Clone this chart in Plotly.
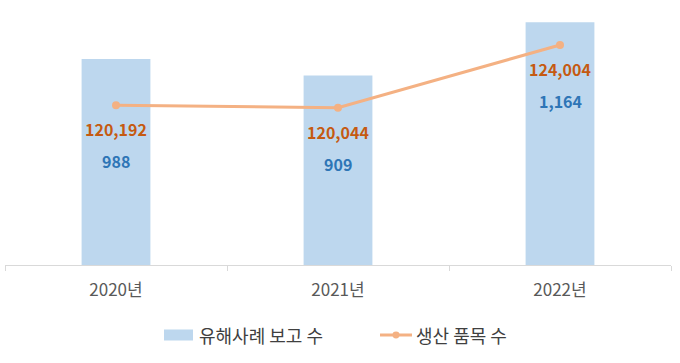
import plotly.graph_objects as go

years = ["2020년", "2021년", "2022년"]
reports = [988, 909, 1164]
products = [120192, 120044, 124004]

bar_name = "유해사례 보고 수"
line_name = "생산 품목 수"

FONT = "Noto Sans CJK KR"
BAR_COLOR = "#BDD7EE"
LINE_COLOR = "#F4B183"

fig = go.Figure()
fig.add_trace(go.Bar(
    x=years, y=reports, name=bar_name,
    marker=dict(color=BAR_COLOR, line=dict(width=0)),
    width=0.31, yaxis="y", hoverinfo="skip", showlegend=False,
))
fig.add_trace(go.Scatter(
    x=years, y=products, name=line_name, mode="lines+markers",
    line=dict(color=LINE_COLOR, width=3),
    marker=dict(color=LINE_COLOR, size=8),
    yaxis="y2", hoverinfo="skip", showlegend=False,
))

annotations = []
for yr, r, p in zip(years, reports, products):
    annotations.append(dict(
        x=yr, y=p, xref="x", yref="y2", yshift=-24,
        text=f"<b>{p:,}</b>", showarrow=False,
        font=dict(family=FONT, size=16, color="#C55A11"),
    ))
    annotations.append(dict(
        x=yr, y=p, xref="x", yref="y2", yshift=-56,
        text=f"<b>{r:,}</b>", showarrow=False,
        font=dict(family=FONT, size=16, color="#2E75B6"),
    ))

# manual legend (paper coordinates)
leg_y = -0.2745
annotations.append(dict(
    x=0.2883, y=leg_y, xref="paper", yref="paper", xanchor="left", yanchor="middle",
    text=bar_name, showarrow=False,
    font=dict(family=FONT, size=18, color="#404040"),
))
annotations.append(dict(
    x=0.6141, y=leg_y, xref="paper", yref="paper", xanchor="left", yanchor="middle",
    text=line_name, showarrow=False,
    font=dict(family=FONT, size=18, color="#404040"),
))
shapes = [
    dict(type="rect", xref="paper", yref="paper",
         x0=0.2387, x1=0.2823, y0=-0.2529, y1=-0.2961,
         fillcolor=BAR_COLOR, line=dict(width=0)),
    dict(type="line", xref="paper", yref="paper",
         x0=0.5631, x1=0.6111, y0=leg_y, y1=leg_y,
         line=dict(color=LINE_COLOR, width=3)),
    dict(type="circle", xref="paper", yref="paper",
         x0=0.5871 - 0.0053, x1=0.5871 + 0.0053,
         y0=leg_y - 0.0137, y1=leg_y + 0.0137,
         fillcolor=LINE_COLOR, line=dict(width=0)),
]

fig.update_layout(
    width=680, height=363,
    margin=dict(l=5, r=9, t=10, b=98),
    paper_bgcolor="white", plot_bgcolor="white",
    font=dict(family=FONT, color="#595959"),
    showlegend=False,
    xaxis=dict(
        type="category", showline=True, linecolor="#D9D9D9", linewidth=1,
        ticks="outside", tickson="boundaries", ticklen=5, tickcolor="#D9D9D9",
        tickfont=dict(family=FONT, size=17, color="#595959"),
        ticklabelstandoff=10,
        showgrid=False, zeroline=False,
    ),
    yaxis=dict(range=[0, 1223], visible=False, showgrid=False),
    yaxis2=dict(range=[110097, 126216], overlaying="y", side="right",
                visible=False, showgrid=False),
    annotations=annotations,
    shapes=shapes,
)

fig.write_html(
    "out.html",
    config={"displayModeBar": False},
    post_script="document.body.style.margin='0';document.body.style.padding='0';",
)
